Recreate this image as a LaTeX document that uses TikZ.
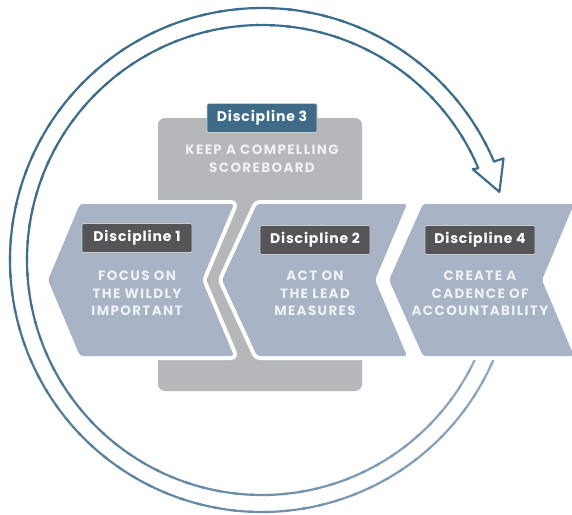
\documentclass[tikz,border=0pt]{standalone}
\usepackage{fontspec}
\setmainfont{Poppins}
\usetikzlibrary{positioning}
\definecolor{ringdark}{HTML}{3D6D8D}
\definecolor{ringlight}{HTML}{9DB1C6}
\definecolor{chevfill}{HTML}{A8B4C5}
\definecolor{boxgray}{HTML}{B6B7BA}
\definecolor{tabgray}{HTML}{555558}
\definecolor{tabblue}{HTML}{3F6B89}
\definecolor{textlight}{HTML}{EEF0F3}

\begin{document}
\begin{tikzpicture}[
    x=1pt, y=-1pt,
    chevron/.style={fill=chevfill, rounded corners=3pt,
                    preaction={draw=white, line width=8pt, line join=round}},
    tabbox/.style={draw=white!70!tabgray, line width=0.6pt, fill=tabgray, rounded corners=1.5pt,
                   minimum width=110pt, minimum height=29pt, text=white,
                   font=\bfseries\fontsize{14}{14}\selectfont\addfontfeature{LetterSpace=6}},
    caption/.style={text=textlight, align=center,
                    font=\bfseries\fontsize{13.5}{17.5}\selectfont\addfontfeature{LetterSpace=10}},
    ringline/.style={line width=2.2pt, line cap=round, line join=round},
]
    \useasboundingbox (0,0) rectangle (572,514);

    % Ring arrow, lighter towards its tail
    \coordinate (c) at (262,260);
    \foreach \a in {0,4,...,332} {
        \pgfmathtruncatemacro\pct{min(100,\a/1.8)}
        \draw[ringline, ringdark!\pct!ringlight] (c) ++(\a:252) arc[start angle=\a, end angle=\a+5, radius=252];
        \draw[ringline, ringdark!\pct!ringlight] (c) ++(\a:235) arc[start angle=\a, end angle=\a+5, radius=235];
    }
    \draw[ringline, ringdark] ([shift={(337:252)}]c) -- ([shift={(337.2:262)}]c)
        -- ([shift={(344:247)}]c) -- ([shift={(336.7:229.5)}]c) -- ([shift={(337:235)}]c);

    % Discipline 3 board
    \fill[boxgray, rounded corners=7pt] (158,118) rectangle (362,391);

    % Chevrons
    \path[chevron] (80,204) -- (234,204) -- (202,280) -- (234,356) -- (80,356) -- (48,280) -- cycle;
    \path[chevron] (257,204) -- (407,204) -- (375,280) -- (407,356) -- (257,356) -- (222,280) -- cycle;
    \path[chevron] (423,204) -- (574,204) -- (542,280) -- (574,356) -- (423,356) -- (389,280) -- cycle;

    % Tabs
    \node[tabbox, fill=tabblue] (tab3) at (262,118) {Discipline 3};
    \node[tabbox] (tab1) at (137,238) {Discipline 1};
    \node[tabbox] (tab2) at (315,240) {Discipline 2};
    \node[tabbox] (tab4) at (480,240) {Discipline 4};

    % Texts
    \node[caption, below=9pt of tab3] (txt3) {KEEP A COMPELLING\\SCOREBOARD};
    \node[caption, below=15pt of tab1] (txt1) {FOCUS ON\\THE WILDLY\\IMPORTANT};
    \node[caption, below=13pt of tab2] (txt2) {ACT ON\\THE LEAD\\MEASURES};
    \node[caption, below=13pt of tab4] (txt4) {CREATE A\\CADENCE OF\\ACCOUNTABILITY};
\end{tikzpicture}
\end{document}
